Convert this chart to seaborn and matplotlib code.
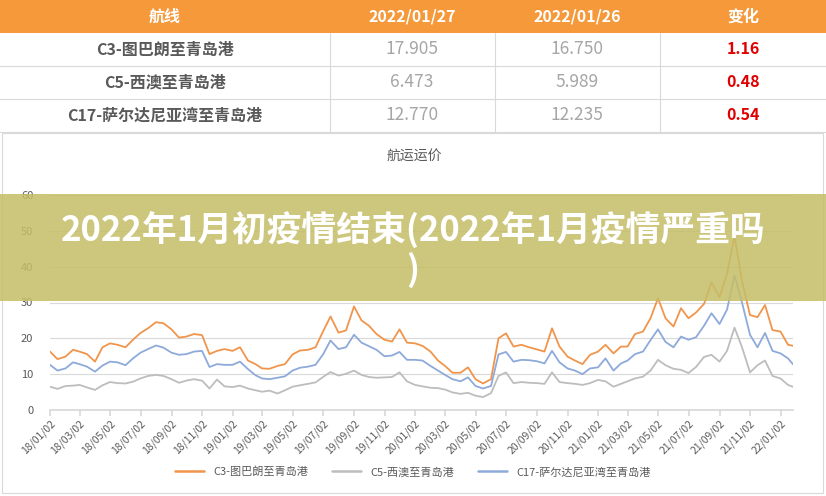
import matplotlib
matplotlib.use('Agg')
import matplotlib.pyplot as plt
import matplotlib.dates as mdates
from matplotlib.patches import Rectangle
import pandas as pd
import seaborn as sns

# table at the top
table_cols = ['航线', '2022/01/27', '2022/01/26', '变化']
routes = ['C3-图巴朗至青岛港', 'C5-西澳至青岛港', 'C17-萨尔达尼亚湾至青岛港']
price_0127 = ['17.905', '6.473', '12.770']
price_0126 = ['16.750', '5.989', '12.235']
change = ['1.16', '0.48', '0.54']

# chart data (2nd and 17th of each month, last point 22/01/27)
dates = [f'{y}-{m:02d}-{d:02d}' for y in range(2018, 2022) for m in range(1, 13) for d in (2, 17)]
dates += ['2022-01-02', '2022-01-17', '2022-01-27']

c3 = [16.3, 14.2, 14.9, 16.8, 16.3, 15.6, 13.5, 17.5, 18.6, 18.2, 17.5, 19.6, 21.5,
      22.8, 24.5, 24.2, 22.5, 20.2, 20.5, 21.2, 20.9, 15.6, 16.5, 17.0, 16.5,
      17.5, 13.8, 12.8, 11.6, 11.5, 12.3, 12.8, 15.5, 16.6, 16.8, 17.5, 21.9,
      26.1, 21.6, 22.2, 28.9, 25.0, 23.5, 21.2, 19.6, 19.1, 22.5, 18.8, 18.6,
      17.9, 16.3, 13.8, 12.3, 10.4, 10.4, 11.9, 8.6, 7.4, 8.6, 20.0, 21.4,
      17.7, 18.2, 17.5, 16.9, 16.3, 22.8, 17.7, 14.9, 13.8, 12.8, 15.4, 16.3,
      18.2, 15.8, 17.7, 17.7, 21.2, 21.9, 25.6, 31.2, 25.6, 23.3, 28.4, 25.6,
      27.2, 29.6, 35.6, 31.5, 38.0, 48.5, 36.0, 26.5, 25.9, 29.3, 22.3, 21.9, 18.2,
      17.905]
c5 = [6.5, 5.9, 6.7, 6.8, 7.0, 6.3, 5.6, 6.9, 7.8, 7.5, 7.4, 7.9, 8.8,
      9.5, 9.8, 9.5, 8.6, 7.6, 8.2, 8.6, 8.2, 6.0, 8.5, 6.6, 6.4,
      6.8, 6.0, 5.5, 5.1, 5.4, 4.6, 5.5, 6.5, 6.9, 7.3, 7.7, 9.2,
      10.6, 9.6, 10.1, 11.0, 9.8, 9.2, 9.0, 9.1, 9.2, 10.5, 8.0, 7.0,
      6.6, 6.2, 6.1, 5.7, 4.9, 4.5, 4.8, 4.0, 3.6, 4.7, 9.5, 10.5,
      7.5, 7.8, 7.6, 7.5, 7.3, 10.5, 7.8, 7.5, 7.3, 7.0, 7.5, 8.4,
      8.0, 6.5, 7.3, 8.0, 8.8, 9.3, 11.0, 14.0, 12.5, 11.5, 11.2, 10.3,
      12.0, 14.8, 15.4, 13.5, 16.5, 23.0, 17.5, 10.5, 12.5, 13.8, 9.5, 8.8, 7.0,
      6.473]
c17 = [12.6, 11.0, 11.6, 13.3, 12.8, 12.1, 10.7, 12.4, 13.5, 13.3, 12.5, 14.4, 16.0,
       17.0, 18.0, 17.4, 16.0, 15.4, 15.6, 16.3, 16.5, 12.0, 12.8, 12.6, 12.6,
       13.5, 11.4, 9.7, 8.8, 8.6, 9.0, 9.4, 11.0, 11.8, 12.1, 12.6, 15.5,
       19.4, 17.0, 17.5, 21.0, 18.8, 17.8, 16.8, 15.0, 15.2, 16.2, 14.0, 14.0,
       13.8, 12.3, 11.0, 9.8, 8.6, 8.0, 9.1, 6.7, 6.0, 6.7, 15.5, 16.2,
       13.5, 14.0, 13.9, 13.6, 13.0, 16.5, 13.3, 11.6, 11.0, 10.0, 11.6, 11.9,
       14.4, 11.0, 13.0, 13.8, 15.6, 16.3, 19.5, 22.5, 19.0, 17.5, 20.5, 19.6,
       20.3, 23.5, 27.0, 24.0, 28.0, 37.5, 30.0, 21.0, 17.5, 21.5, 16.5, 15.8, 14.4,
       12.77]

df = pd.DataFrame({'date': pd.to_datetime(dates), routes[0]: c3, routes[1]: c5, routes[2]: c17})
df = df.melt(id_vars='date', var_name='route', value_name='price')

sns.set_theme(style='white')
plt.rcParams['font.family'] = ['Noto Sans CJK SC', 'DejaVu Sans']

fig = plt.figure(figsize=(8.26, 4.96), dpi=100)
W, H = 826, 496

# ---- table ----
tab = fig.add_axes([0, 1 - 133 / H, 1, 133 / H])
tab.set_xlim(0, W)
tab.set_ylim(133, 0)
tab.axis('off')
tab.add_patch(Rectangle((0, 0), W, 33, color='#F5993B', lw=0))
col_x = [165, 412, 577, 743]
for x, t in zip(col_x, table_cols):
    tab.text(x, 16.5, t, ha='center', va='center', color='white', fontsize=11.5, fontweight='bold')
for i in range(3):
    yc = 33 + 33 * i + 16.5
    tab.text(col_x[0], yc, routes[i], ha='center', va='center', color='#595959', fontsize=11.5, fontweight='bold')
    tab.text(col_x[1], yc, price_0127[i], ha='center', va='center', color='#A6A6A6', fontsize=12.5)
    tab.text(col_x[2], yc, price_0126[i], ha='center', va='center', color='#A6A6A6', fontsize=12.5)
    tab.text(col_x[3], yc, change[i], ha='center', va='center', color='#E00000', fontsize=11.5, fontweight='bold')
    tab.plot([0, W], [33 * (i + 2), 33 * (i + 2)], color='#D9D9D9', lw=0.8)
for x in (330, 495, 660):
    tab.plot([x, x], [33, 132], color='#D9D9D9', lw=0.8)

# chart frame
fig.patches.append(Rectangle((2 / W, 1 - 493 / H), 821 / W, 360 / H, transform=fig.transFigure,
                             fill=False, edgecolor='#D9D9D9', lw=0.8))
fig.text(414 / W, 1 - 157 / H, '航运运价', ha='center', va='center', fontsize=10, color='#595959')

# ---- line chart ----
ax = fig.add_axes([50 / W, 1 - 410 / H, 743 / W, 215 / H])
palette = {routes[0]: '#F0954B', routes[1]: '#BDBDBD', routes[2]: '#8EAADA'}
sns.lineplot(data=df, x='date', y='price', hue='route', palette=palette, linewidth=1.3, ax=ax)
ax.set_xlim(pd.Timestamp('2018-01-02'), pd.Timestamp('2022-01-27'))
ax.set_ylim(0, 60)
ax.set_yticks(range(0, 61, 10))
ax.grid(axis='y', color='#D9D9D9', lw=0.8)
ax.set_xlabel('')
ax.set_ylabel('')
for s in ('top', 'right', 'left'):
    ax.spines[s].set_visible(False)
ax.spines['bottom'].set_color('#D9D9D9')
ticks = [pd.Timestamp(y, m, 2) for y in range(2018, 2022) for m in (1, 3, 5, 7, 9, 11)] + [pd.Timestamp(2022, 1, 2)]
ax.set_xticks(ticks)
ax.xaxis.set_major_formatter(mdates.DateFormatter('%y/%m/%d'))
ax.tick_params(axis='x', length=4, color='#D9D9D9', labelsize=7.5, labelcolor='#595959', pad=2, bottom=True)
ax.tick_params(axis='y', length=0, labelsize=8, labelcolor='#595959', pad=12)
for lab in ax.get_xticklabels():
    lab.set_rotation(45)
    lab.set_ha('right')
    lab.set_rotation_mode('anchor')
sns.move_legend(ax, 'center', bbox_to_anchor=(0.5, 1 - 472 / H), bbox_transform=fig.transFigure,
                ncol=3, frameon=False, title=None, fontsize=8, handlelength=2.6, columnspacing=2.2)
for t in ax.get_legend().get_texts():
    t.set_color('#595959')
for l in ax.get_legend().get_lines():
    l.set_linewidth(1.8)

# ---- overlay banner ----
fig.patches.append(Rectangle((0, 1 - 301 / H), 1, 107 / H, transform=fig.transFigure,
                             facecolor='#C5BE67', alpha=0.85, lw=0, zorder=5))
fig.text(413 / W, 1 - 230 / H, '2022年1月初疫情结束(2022年1月疫情严重吗', ha='center', va='center',
         color='white', fontsize=25, fontweight='bold', zorder=6)
fig.text(413 / W, 1 - 270 / H, ')', ha='center', va='center',
         color='white', fontsize=25, fontweight='bold', zorder=6)

fig.savefig('out.png', dpi=100)
